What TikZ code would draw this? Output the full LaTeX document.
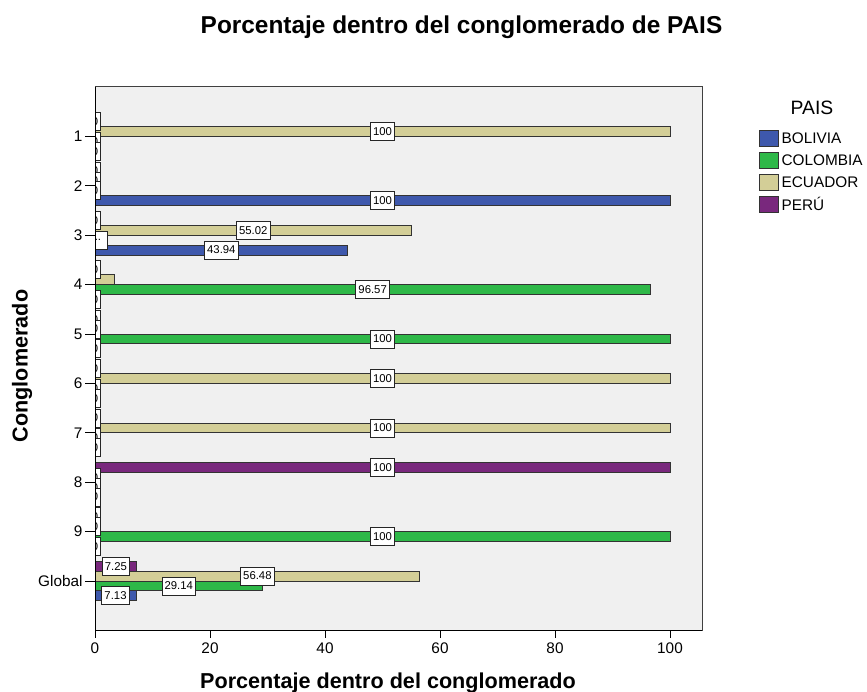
\documentclass[tikz,border=0pt]{standalone}
\usepackage{fontspec}
\setmainfont{Liberation Sans}
\definecolor{bolivia}{RGB}{62,88,172}
\definecolor{colombia}{RGB}{46,184,72}
\definecolor{ecuador}{RGB}{211,206,151}
\definecolor{peru}{RGB}{121,40,125}
\definecolor{plotbg}{RGB}{240,240,240}
\tikzset{
  bar/.style={draw=black!80, line width=0.6pt},
  lbl/.style={draw=black!85, fill=white, line width=0.5pt, font=\fontsize{8.5}{9.5}\selectfont, inner xsep=2pt, inner ysep=0pt, minimum height=13.5pt},
  ticklbl/.style={font=\fontsize{11.5}{13}\selectfont, inner sep=1.5pt},
  axtitle/.style={font=\fontsize{16.2}{18}\selectfont\bfseries},
  swatch/.style={draw=black!80, line width=0.6pt, minimum width=14pt, minimum height=12pt, inner sep=0pt},
  legtext/.style={font=\fontsize{11.5}{13}\selectfont, anchor=west, inner xsep=2pt},
}

\begin{document}
\begin{tikzpicture}[x=0.75pt,y=-0.75pt]
		\useasboundingbox (0,0) rectangle (867,692);
		\node[font=\fontsize{18.3}{20}\selectfont\bfseries, anchor=base] (title) at (461.5,33.5) {Porcentaje dentro del conglomerado de PAIS};
		\node[axtitle, rotate=90] (ylab) at (22,366) {Conglomerado};
		\node[axtitle, anchor=base] (xlab) at (388,688) {Porcentaje dentro del conglomerado};
		%%%%%%%%%%%%% plot area
		\begin{scope}[xshift=71.25pt, yshift=-65.25pt, x=4.3125pt, y=-37.05pt]
		\fill[plotbg] (0,0) rectangle (105.57,11);
		%%%%%%%%%%%%% bars
		\filldraw[bar, fill=ecuador] (0,0.8) rectangle (100,1);
		\filldraw[bar, fill=bolivia] (0,2.2) rectangle (100,2.4);
		\filldraw[bar, fill=ecuador] (0,2.8) rectangle (55.02,3);
		\filldraw[bar, fill=colombia] (0,3) rectangle (1.04,3.2);
		\filldraw[bar, fill=bolivia] (0,3.2) rectangle (43.94,3.4);
		\filldraw[bar, fill=ecuador] (0,3.8) rectangle (3.43,4);
		\filldraw[bar, fill=colombia] (0,4) rectangle (96.57,4.2);
		\filldraw[bar, fill=colombia] (0,5) rectangle (100,5.2);
		\filldraw[bar, fill=ecuador] (0,5.8) rectangle (100,6);
		\filldraw[bar, fill=ecuador] (0,6.8) rectangle (100,7);
		\filldraw[bar, fill=peru] (0,7.6) rectangle (100,7.8);
		\filldraw[bar, fill=colombia] (0,9) rectangle (100,9.2);
		\filldraw[bar, fill=peru] (0,9.6) rectangle (7.25,9.8);
		\filldraw[bar, fill=ecuador] (0,9.8) rectangle (56.48,10);
		\filldraw[bar, fill=colombia] (0,10) rectangle (29.14,10.2);
		\filldraw[bar, fill=bolivia] (0,10.2) rectangle (7.13,10.4);
		%%%%%%%%%%%%% value labels
		\begin{scope}
		\clip (0,0) rectangle (105.57,11);
		\foreach \y [count=\i] in {0.7,1.1,1.3,1.7,1.9,2.1,2.7,3.7,4.3,4.7,4.9,5.3,5.7,6.1,6.3,6.7,7.1,7.3,7.9,8.1,8.3,8.7,8.9,9.3}
			\node[lbl] (zero\i) at (0,\y) {0};
		\node[lbl, minimum width=13.5pt] (c3col) at (0.52,3.1) {..};
		\end{scope}
		\node[lbl] (c1ecu) at (50,0.9) {100};
		\node[lbl] (c2bol) at (50,2.3) {100};
		\node[lbl] (c3ecu) at (27.51,2.9) {55.02};
		\node[lbl] (c3bol) at (21.97,3.3) {43.94};
		\node[lbl] (c4col) at (48.29,4.1) {96.57};
		\node[lbl] (c5col) at (50,5.1) {100};
		\node[lbl] (c6ecu) at (50,5.9) {100};
		\node[lbl] (c7ecu) at (50,6.9) {100};
		\node[lbl] (c8per) at (50,7.7) {100};
		\node[lbl] (c9col) at (50,9.1) {100};
		\node[lbl] (glper) at (3.63,9.7) {7.25};
		\node[lbl] (glecu) at (28.24,9.9) {56.48};
		\node[lbl] (glcol) at (14.57,10.1) {29.14};
		\node[lbl] (glbol) at (3.57,10.3) {7.13};
		%%%%%%%%%%%%% axes
		\draw[black!75, line width=0.75pt] (0,0) rectangle (105.57,11);
		\draw[line width=0.75pt] (0,0) -- (0,11) -- (105.57,11);
		\foreach \k/\t in {1/1,2/2,3/3,4/4,5/5,6/6,7/7,8/8,9/9,10/Global}
			\draw[line width=0.75pt] (0,\k) -- ++(-7.5pt,0) node[ticklbl, anchor=east] (cat\k) {\t};
		\foreach \v in {0,20,...,100}
			\draw[line width=0.75pt] (\v,11) -- ++(0,-6pt) node[ticklbl, anchor=north, inner sep=3pt] (xt\v) {\v};
		\end{scope}
		%%%%%%%%%%%%% legend
		\node[font=\fontsize{14.5}{16}\selectfont] (legtitle) at (812,108) {PAIS};
		\node[swatch, fill=bolivia] (sw1) at (769,138) {};
		\node[swatch, fill=colombia] (sw2) at (769,160) {};
		\node[swatch, fill=ecuador] (sw3) at (769,182) {};
		\node[swatch, fill=peru] (sw4) at (769,204) {};
		\node[legtext] (lg1) at (sw1.east) {BOLIVIA};
		\node[legtext] (lg2) at (sw2.east) {COLOMBIA};
		\node[legtext] (lg3) at (sw3.east) {ECUADOR};
		\node[legtext] (lg4) at (sw4.east) {PERÚ};
	\end{tikzpicture}
\end{document}
